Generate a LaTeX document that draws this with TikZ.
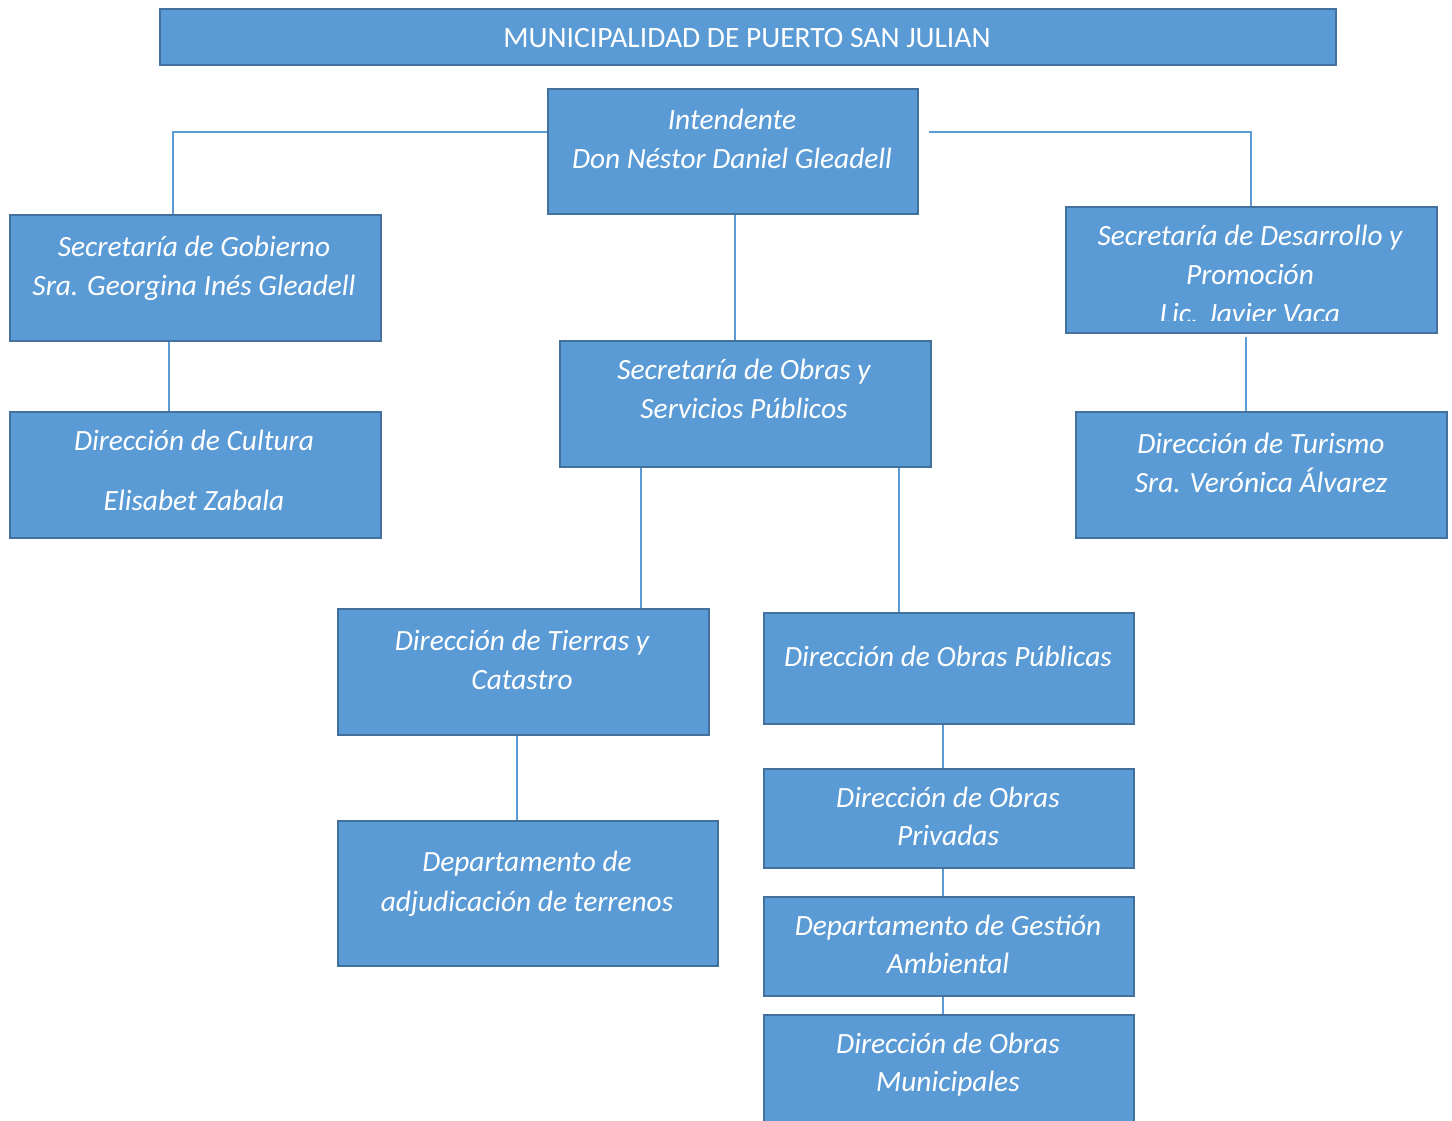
\documentclass[tikz,border=0pt]{standalone}
\usepackage{fontspec}
\setmainfont{Carlito}
\definecolor{boxfill}{HTML}{5B9BD5}
\definecolor{boxline}{HTML}{41719C}
\definecolor{connline}{HTML}{5B9BD5}
\begin{document}
\begin{tikzpicture}[x=1pt,y=-1pt,
  orgbox/.style={draw=boxline,fill=boxfill,line width=2.2pt,rectangle,inner sep=0pt,anchor=north west},
  txt/.style={text=white,font=\fontsize{29.4}{39}\selectfont\itshape,inner sep=0pt,anchor=base},
  toptxt/.style={text=white,font=\fontsize{29.5}{39}\selectfont,inner sep=0pt,anchor=base},
  conn/.style={draw=connline,line width=1.2pt}]
\clip (0,0) rectangle (1452,1120);
\fill[white] (0,0) rectangle (1452,1120);

% boxes
\node[orgbox,minimum width=1176pt,minimum height=56pt] (top) at (159,8) {};
\node[orgbox,minimum width=370pt,minimum height=125pt] (int) at (547,88) {};
\node[orgbox,minimum width=371pt,minimum height=126pt] (sg) at (9,214) {};
\node[orgbox,minimum width=371pt,minimum height=126pt] (dc) at (9,411) {};
\node[orgbox,minimum width=371pt,minimum height=126pt] (sd) at (1065,206) {};
\node[orgbox,minimum width=371pt,minimum height=126pt] (dt) at (1075,411) {};
\node[orgbox,minimum width=371pt,minimum height=126pt] (so) at (559,340) {};
\node[orgbox,minimum width=371pt,minimum height=126pt] (ti) at (337,608) {};
\node[orgbox,minimum width=380pt,minimum height=145pt] (ad) at (337,820) {};
\node[orgbox,minimum width=370pt,minimum height=111pt] (op) at (763,612) {};
\node[orgbox,minimum width=370pt,minimum height=99pt] (pr) at (763,768) {};
\node[orgbox,minimum width=370pt,minimum height=99pt] (ga) at (763,896) {};
\node[orgbox,minimum width=370pt,minimum height=130pt] (om) at (763,1014) {};

% connectors
\coordinate (rstart) at (929,132);
\coordinate (sdbot) at (1246,337);
\draw[conn] (int.west |- 0,132) -| (sg.north -| 173,0);
\draw[conn] (rstart) -| (sd.north -| 1251,0);
\draw[conn] (int.south -| 735,0) -- (so.north -| 735,0);
\draw[conn] (sg.south -| 169,0) -- (dc.north -| 169,0);
\draw[conn] (sdbot) -- (dt.north -| 1246,0);
\draw[conn] (so.south -| 641,0) -- (ti.north -| 641,0);
\draw[conn] (so.south -| 899,0) -- (op.north -| 899,0);
\draw[conn] (ti.south -| 517,0) -- (ad.north -| 517,0);
\draw[conn] (op.south -| 943,0) -- (pr.north -| 943,0);
\draw[conn] (pr.south -| 943,0) -- (ga.north -| 943,0);
\draw[conn] (ga.south -| 943,0) -- (om.north -| 943,0);

% texts
\node[toptxt] (ttop) at (747,47) {MUNICIPALIDAD DE PUERTO SAN JULIAN};
\node[txt] (tint1) at (732,129) {Intendente};
\node[txt] (tint2) at (732,168) {Don Néstor Daniel Gleadell};
\node[txt] (tsg1) at (194,256) {Secretaría de Gobierno};
\node[txt] (tsg2) at (194,295) {Sra. Georgina Inés Gleadell};
\node[txt] (tdc1) at (194,450) {Dirección de Cultura};
\node[txt] (tdc2) at (194,510) {Elisabet Zabala};
\node[txt] (tsd1) at (1250,245) {Secretaría de Desarrollo y};
\node[txt] (tsd2) at (1250,284) {Promoción};
\begin{scope}
  \clip (1066,290) rectangle (1435,320);
  \node[txt] (tsd3) at (1250,323) {Lic. Javier Vaca};
\end{scope}
\node[txt] (tdt1) at (1261,453) {Dirección de Turismo};
\node[txt] (tdt2) at (1261,492) {Sra. Verónica Álvarez};
\node[txt] (tso1) at (744,379) {Secretaría de Obras y};
\node[txt] (tso2) at (744,418) {Servicios Públicos};
\node[txt] (tti1) at (522,650) {Dirección de Tierras y};
\node[txt] (tti2) at (522,689) {Catastro};
\node[txt] (tad1) at (527,871) {Departamento de};
\node[txt] (tad2) at (527,911) {adjudicación de terrenos};
\node[txt] (top1) at (948,666) {Dirección de Obras Públicas};
\node[txt] (tpr1) at (948,807) {Dirección de Obras};
\node[txt] (tpr2) at (948,845) {Privadas};
\node[txt] (tga1) at (948,935) {Departamento de Gestión};
\node[txt] (tga2) at (948,973) {Ambiental};
\node[txt] (tom1) at (948,1053) {Dirección de Obras};
\node[txt] (tom2) at (948,1091) {Municipales};
\end{tikzpicture}
\end{document}
